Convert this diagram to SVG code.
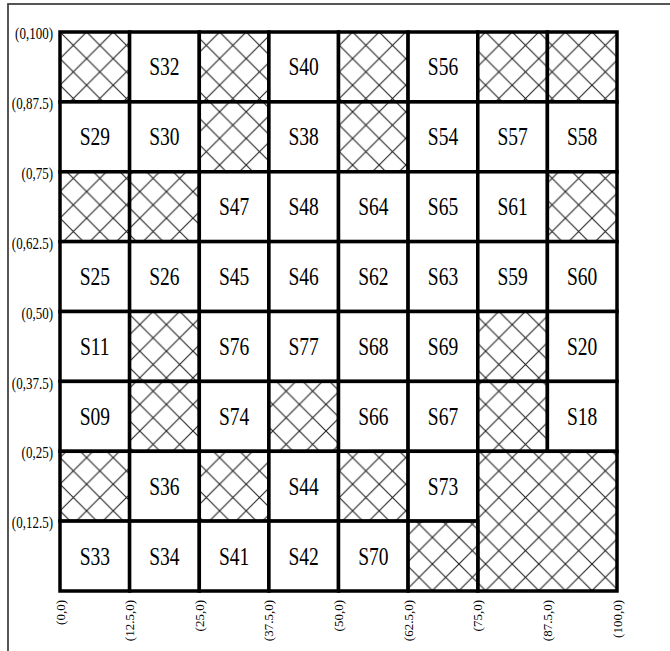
<svg xmlns="http://www.w3.org/2000/svg" width="670" height="651" viewBox="0 0 670 651">
<style>
.cell{fill:#fff;stroke:#000;stroke-width:3.5}
.hat{fill:url(#hatch);stroke:#000;stroke-width:3.5}
.lbl{font-family:"Liberation Serif","Times New Roman",serif;font-size:19.5px;fill:#000;text-anchor:middle;dominant-baseline:central}
.ax{font-family:"Liberation Serif","Times New Roman",serif;font-size:13px;fill:#000}
.axl{text-anchor:end;dominant-baseline:central}
.axb{text-anchor:end;dominant-baseline:central}
</style>
<defs>
<pattern id="hatch" patternUnits="userSpaceOnUse" x="60" y="32" width="26.6" height="26.6">
<rect width="26.6" height="26.6" fill="#fff"/>
<path d="M-2,-2 L28.6,28.6 M28.6,-2 L-2,28.6" stroke="#222" stroke-width="1.1"/>
</pattern>
</defs>
<rect width="670" height="651" fill="#fff"/>
<rect id="frame" x="8" y="4" width="700" height="700" fill="none" stroke="#444" stroke-width="1.8"/>

<g id="grid">
<!-- row 0 -->
<g id="r0c0"><rect class="hat" x="60" y="32" width="69.6" height="69.9"/></g>
<g id="S32"><rect class="cell" x="129.6" y="32" width="69.7" height="69.9"/><text class="lbl" transform="translate(164.4,67) scale(1,1.3)">S32</text></g>
<g id="r0c2"><rect class="hat" x="199.3" y="32" width="69.6" height="69.9"/></g>
<g id="S40"><rect class="cell" x="268.9" y="32" width="69.6" height="69.9"/><text class="lbl" transform="translate(303.7,67) scale(1,1.3)">S40</text></g>
<g id="r0c4"><rect class="hat" x="338.5" y="32" width="69.6" height="69.9"/></g>
<g id="S56"><rect class="cell" x="408.1" y="32" width="69.7" height="69.9"/><text class="lbl" transform="translate(443,67) scale(1,1.3)">S56</text></g>
<g id="r0c6"><rect class="hat" x="477.8" y="32" width="69.6" height="69.9"/></g>
<g id="r0c7"><rect class="hat" x="547.4" y="32" width="69.6" height="69.9"/></g>
<!-- row 1 -->
<g id="S29"><rect class="cell" x="60" y="101.9" width="69.6" height="69.9"/><text class="lbl" transform="translate(94.8,136.8) scale(1,1.3)">S29</text></g>
<g id="S30"><rect class="cell" x="129.6" y="101.9" width="69.7" height="69.9"/><text class="lbl" transform="translate(164.4,136.8) scale(1,1.3)">S30</text></g>
<g id="r1c2"><rect class="hat" x="199.3" y="101.9" width="69.6" height="69.9"/></g>
<g id="S38"><rect class="cell" x="268.9" y="101.9" width="69.6" height="69.9"/><text class="lbl" transform="translate(303.7,136.8) scale(1,1.3)">S38</text></g>
<g id="r1c4"><rect class="hat" x="338.5" y="101.9" width="69.6" height="69.9"/></g>
<g id="S54"><rect class="cell" x="408.1" y="101.9" width="69.7" height="69.9"/><text class="lbl" transform="translate(443,136.8) scale(1,1.3)">S54</text></g>
<g id="S57"><rect class="cell" x="477.8" y="101.9" width="69.6" height="69.9"/><text class="lbl" transform="translate(512.6,136.8) scale(1,1.3)">S57</text></g>
<g id="S58"><rect class="cell" x="547.4" y="101.9" width="69.6" height="69.9"/><text class="lbl" transform="translate(582.2,136.8) scale(1,1.3)">S58</text></g>
<!-- row 2 -->
<g id="r2c0"><rect class="hat" x="60" y="171.8" width="69.6" height="69.8"/></g>
<g id="r2c1"><rect class="hat" x="129.6" y="171.8" width="69.7" height="69.8"/></g>
<g id="S47"><rect class="cell" x="199.3" y="171.8" width="69.6" height="69.8"/><text class="lbl" transform="translate(234.1,206.7) scale(1,1.3)">S47</text></g>
<g id="S48"><rect class="cell" x="268.9" y="171.8" width="69.6" height="69.8"/><text class="lbl" transform="translate(303.7,206.7) scale(1,1.3)">S48</text></g>
<g id="S64"><rect class="cell" x="338.5" y="171.8" width="69.6" height="69.8"/><text class="lbl" transform="translate(373.3,206.7) scale(1,1.3)">S64</text></g>
<g id="S65"><rect class="cell" x="408.1" y="171.8" width="69.7" height="69.8"/><text class="lbl" transform="translate(443,206.7) scale(1,1.3)">S65</text></g>
<g id="S61"><rect class="cell" x="477.8" y="171.8" width="69.6" height="69.8"/><text class="lbl" transform="translate(512.6,206.7) scale(1,1.3)">S61</text></g>
<g id="r2c7"><rect class="hat" x="547.4" y="171.8" width="69.6" height="69.8"/></g>
<!-- row 3 -->
<g id="S25"><rect class="cell" x="60" y="241.6" width="69.6" height="69.9"/><text class="lbl" transform="translate(94.8,276.6) scale(1,1.3)">S25</text></g>
<g id="S26"><rect class="cell" x="129.6" y="241.6" width="69.7" height="69.9"/><text class="lbl" transform="translate(164.4,276.6) scale(1,1.3)">S26</text></g>
<g id="S45"><rect class="cell" x="199.3" y="241.6" width="69.6" height="69.9"/><text class="lbl" transform="translate(234.1,276.6) scale(1,1.3)">S45</text></g>
<g id="S46"><rect class="cell" x="268.9" y="241.6" width="69.6" height="69.9"/><text class="lbl" transform="translate(303.7,276.6) scale(1,1.3)">S46</text></g>
<g id="S62"><rect class="cell" x="338.5" y="241.6" width="69.6" height="69.9"/><text class="lbl" transform="translate(373.3,276.6) scale(1,1.3)">S62</text></g>
<g id="S63"><rect class="cell" x="408.1" y="241.6" width="69.7" height="69.9"/><text class="lbl" transform="translate(443,276.6) scale(1,1.3)">S63</text></g>
<g id="S59"><rect class="cell" x="477.8" y="241.6" width="69.6" height="69.9"/><text class="lbl" transform="translate(512.6,276.6) scale(1,1.3)">S59</text></g>
<g id="S60"><rect class="cell" x="547.4" y="241.6" width="69.6" height="69.9"/><text class="lbl" transform="translate(582.2,276.6) scale(1,1.3)">S60</text></g>
<!-- row 4 -->
<g id="S11"><rect class="cell" x="60" y="311.5" width="69.6" height="69.9"/><text class="lbl" transform="translate(94.8,346.4) scale(1,1.3)">S11</text></g>
<g id="r4c1"><rect class="hat" x="129.6" y="311.5" width="69.7" height="69.9"/></g>
<g id="S76"><rect class="cell" x="199.3" y="311.5" width="69.6" height="69.9"/><text class="lbl" transform="translate(234.1,346.4) scale(1,1.3)">S76</text></g>
<g id="S77"><rect class="cell" x="268.9" y="311.5" width="69.6" height="69.9"/><text class="lbl" transform="translate(303.7,346.4) scale(1,1.3)">S77</text></g>
<g id="S68"><rect class="cell" x="338.5" y="311.5" width="69.6" height="69.9"/><text class="lbl" transform="translate(373.3,346.4) scale(1,1.3)">S68</text></g>
<g id="S69"><rect class="cell" x="408.1" y="311.5" width="69.7" height="69.9"/><text class="lbl" transform="translate(443,346.4) scale(1,1.3)">S69</text></g>
<g id="r4c6"><rect class="hat" x="477.8" y="311.5" width="69.6" height="69.9"/></g>
<g id="S20"><rect class="cell" x="547.4" y="311.5" width="69.6" height="69.9"/><text class="lbl" transform="translate(582.2,346.4) scale(1,1.3)">S20</text></g>
<!-- row 5 -->
<g id="S09"><rect class="cell" x="60" y="381.4" width="69.6" height="69.9"/><text class="lbl" transform="translate(94.8,416.3) scale(1,1.3)">S09</text></g>
<g id="r5c1"><rect class="hat" x="129.6" y="381.4" width="69.7" height="69.9"/></g>
<g id="S74"><rect class="cell" x="199.3" y="381.4" width="69.6" height="69.9"/><text class="lbl" transform="translate(234.1,416.3) scale(1,1.3)">S74</text></g>
<g id="r5c3"><rect class="hat" x="268.9" y="381.4" width="69.6" height="69.9"/></g>
<g id="S66"><rect class="cell" x="338.5" y="381.4" width="69.6" height="69.9"/><text class="lbl" transform="translate(373.3,416.3) scale(1,1.3)">S66</text></g>
<g id="S67"><rect class="cell" x="408.1" y="381.4" width="69.7" height="69.9"/><text class="lbl" transform="translate(443,416.3) scale(1,1.3)">S67</text></g>
<g id="r5c6"><rect class="hat" x="477.8" y="381.4" width="69.6" height="69.9"/></g>
<g id="S18"><rect class="cell" x="547.4" y="381.4" width="69.6" height="69.9"/><text class="lbl" transform="translate(582.2,416.3) scale(1,1.3)">S18</text></g>
<!-- row 6 -->
<g id="r6c0"><rect class="hat" x="60" y="451.3" width="69.6" height="69.8"/></g>
<g id="S36"><rect class="cell" x="129.6" y="451.3" width="69.7" height="69.8"/><text class="lbl" transform="translate(164.4,486.2) scale(1,1.3)">S36</text></g>
<g id="r6c2"><rect class="hat" x="199.3" y="451.3" width="69.6" height="69.8"/></g>
<g id="S44"><rect class="cell" x="268.9" y="451.3" width="69.6" height="69.8"/><text class="lbl" transform="translate(303.7,486.2) scale(1,1.3)">S44</text></g>
<g id="r6c4"><rect class="hat" x="338.5" y="451.3" width="69.6" height="69.8"/></g>
<g id="S73"><rect class="cell" x="408.1" y="451.3" width="69.7" height="69.8"/><text class="lbl" transform="translate(443,486.2) scale(1,1.3)">S73</text></g>
<g id="block"><rect class="hat" x="477.8" y="451.3" width="139.2" height="139.7"/></g>
<!-- row 7 -->
<g id="S33"><rect class="cell" x="60" y="521.1" width="69.6" height="69.9"/><text class="lbl" transform="translate(94.8,556.1) scale(1,1.3)">S33</text></g>
<g id="S34"><rect class="cell" x="129.6" y="521.1" width="69.7" height="69.9"/><text class="lbl" transform="translate(164.4,556.1) scale(1,1.3)">S34</text></g>
<g id="S41"><rect class="cell" x="199.3" y="521.1" width="69.6" height="69.9"/><text class="lbl" transform="translate(234.1,556.1) scale(1,1.3)">S41</text></g>
<g id="S42"><rect class="cell" x="268.9" y="521.1" width="69.6" height="69.9"/><text class="lbl" transform="translate(303.7,556.1) scale(1,1.3)">S42</text></g>
<g id="S70"><rect class="cell" x="338.5" y="521.1" width="69.6" height="69.9"/><text class="lbl" transform="translate(373.3,556.1) scale(1,1.3)">S70</text></g>
<g id="r7c5"><rect class="hat" x="408.1" y="521.1" width="69.7" height="69.9"/></g>
</g>

<g id="axis-left" class="ax axl">
<text transform="translate(53,33.5) scale(1,1.3)">(0,100)</text>
<text transform="translate(53,103.4) scale(1,1.3)">(0,87.5)</text>
<text transform="translate(53,173.3) scale(1,1.3)">(0,75)</text>
<text transform="translate(53,243.1) scale(1,1.3)">(0,62.5)</text>
<text transform="translate(53,313) scale(1,1.3)">(0,50)</text>
<text transform="translate(53,382.9) scale(1,1.3)">(0,37.5)</text>
<text transform="translate(53,452.8) scale(1,1.3)">(0,25)</text>
<text transform="translate(53,522.6) scale(1,1.3)">(0,12.5)</text>
</g>
<g id="axis-bottom" class="ax axb">
<text transform="translate(60,600) rotate(-90)">(0,0)</text>
<text transform="translate(129.6,600) rotate(-90)">(12.5,0)</text>
<text transform="translate(199.3,600) rotate(-90)">(25,0)</text>
<text transform="translate(268.9,600) rotate(-90)">(37.5,0)</text>
<text transform="translate(338.5,600) rotate(-90)">(50,0)</text>
<text transform="translate(408.1,600) rotate(-90)">(62.5,0)</text>
<text transform="translate(477.8,600) rotate(-90)">(75,0)</text>
<text transform="translate(547.4,600) rotate(-90)">(87.5,0)</text>
<text transform="translate(617,600) rotate(-90)">(100,0)</text>
</g>
</svg>
